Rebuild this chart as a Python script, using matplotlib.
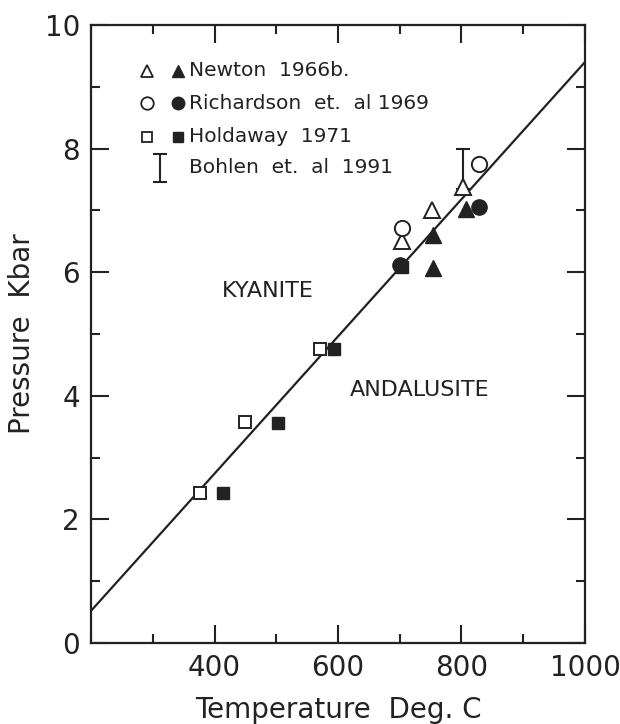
import numpy as np
import matplotlib.pyplot as plt
from matplotlib.ticker import MultipleLocator

# Newton 1966b
newton_open_T = [703, 752, 802]
newton_open_P = [6.50, 7.01, 7.38]
newton_fill_T = [754, 754, 808]
newton_fill_P = [6.07, 6.60, 7.02]

# Richardson et al 1969
rich_open_T = [703, 828]
rich_open_P = [6.71, 7.75]
rich_fill_T = [700, 829]
rich_fill_P = [6.12, 7.06]

# Holdaway 1971
hold_open_T = [376, 449, 571]
hold_open_P = [2.42, 3.58, 4.75]
hold_fill_T = [413, 503, 594, 703]
hold_fill_P = [2.42, 3.56, 4.75, 6.09]

# Bohlen et al 1991 (range)
bohlen_T = 803
bohlen_lo = 7.35
bohlen_hi = 8.0

# kyanite / andalusite boundary
line_T = [200, 1000]
line_P = [0.52, 9.40]

plt.rcParams['font.family'] = ['DejaVu Sans']

fig = plt.figure(figsize=(6.2, 7.24), dpi=100)
ax = fig.add_axes([0.1468, 0.1119, 0.7967, 0.8536])

ax.plot(line_T, line_P, color='#222222', lw=1.6, zorder=1)

ms = 11
ax.plot(newton_open_T, newton_open_P, '^', ms=ms, mfc='white', mec='#222222', mew=1.4, ls='none', zorder=3)
ax.plot(newton_fill_T, newton_fill_P, '^', ms=ms, mfc='#222222', mec='#222222', ls='none', zorder=3)
ax.plot(rich_open_T, rich_open_P, 'o', ms=ms, mfc='white', mec='#222222', mew=1.4, ls='none', zorder=3)
ax.plot(rich_fill_T, rich_fill_P, 'o', ms=ms, mfc='#222222', mec='#222222', ls='none', zorder=3)
ax.plot(hold_open_T, hold_open_P, 's', ms=9, mfc='white', mec='#222222', mew=1.4, ls='none', zorder=3)
ax.plot(hold_fill_T, hold_fill_P, 's', ms=9, mfc='#222222', mec='#222222', ls='none', zorder=3)
ax.errorbar([bohlen_T], [(bohlen_lo + bohlen_hi) / 2], yerr=[(bohlen_hi - bohlen_lo) / 2],
            fmt='none', ecolor='#222222', elinewidth=1.5, capsize=5, capthick=1.5, zorder=2)

ax.text(487, 5.7, 'KYANITE', fontsize=16, ha='center', va='center', color='#222222')
ax.text(733, 4.09, 'ANDALUSITE', fontsize=16, ha='center', va='center', color='#222222')

# hand-drawn style legend, axes coords
def ax_x(px):
    return (px - 91) / 494

def ax_y(py):
    return (643 - py) / 618

tr = ax.transAxes
rows = [(70.7, '^', 'Newton  1966b.'),
        (103.3, 'o', 'Richardson  et.  al 1969'),
        (136.7, 's', 'Holdaway  1971')]
for py, mk, label in rows:
    size = 9 if mk != 's' else 7.5
    ax.plot(ax_x(147), ax_y(py), mk, ms=size, mfc='white', mec='#222222', mew=1.3,
            transform=tr, clip_on=False)
    ax.plot(ax_x(178), ax_y(py), mk, ms=size, mfc='#222222', mec='#222222',
            transform=tr, clip_on=False)
    ax.text(ax_x(189), ax_y(py), label, transform=tr, fontsize=14.5, va='center', ha='left',
            color='#222222')
ax.errorbar([ax_x(160)], [ax_y(168)], yerr=[14 / 618], fmt='none', ecolor='#222222',
            elinewidth=1.5, capsize=5, capthick=1.5, transform=tr)
ax.text(ax_x(189), ax_y(168), 'Bohlen  et.  al  1991', transform=tr, fontsize=14.5,
        va='center', ha='left', color='#222222')

ax.set_xlim(200, 1000)
ax.set_ylim(0, 10)
ax.set_xticks([400, 600, 800, 1000])
ax.set_yticks([0, 2, 4, 6, 8, 10])
ax.xaxis.set_minor_locator(MultipleLocator(100))
ax.yaxis.set_minor_locator(MultipleLocator(1))
ax.tick_params(which='both', direction='in', top=True, right=True, width=1.5,
               color='#222222', labelsize=20, labelcolor='#222222')
ax.tick_params(which='major', length=13, pad=8)
ax.tick_params(which='minor', length=6.5)
for s in ax.spines.values():
    s.set_linewidth(1.6)
    s.set_color('#222222')

ax.set_xlabel('Temperature  Deg. C', fontsize=20, color='#222222', labelpad=10)
ax.set_ylabel('Pressure  Kbar', fontsize=20, color='#222222', labelpad=6)

fig.savefig('out.png', dpi=100)
